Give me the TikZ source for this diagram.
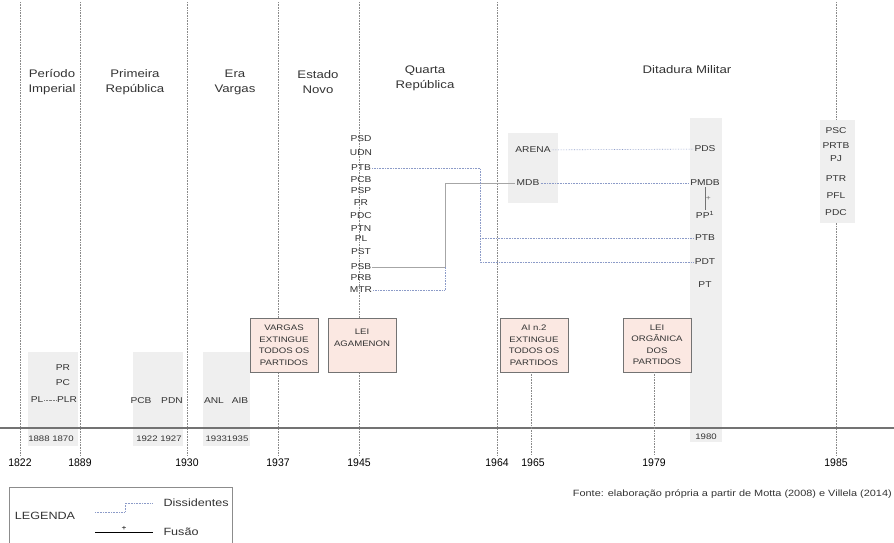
\documentclass[tikz,border=0pt]{standalone}
\usepackage{fontspec}
\setmainfont{Liberation Sans}[FakeStretch=1.2]
\newfontfamily\yearfont{Liberation Sans}[FakeStretch=0.95]
\usepackage{tikz}
\usetikzlibrary{calc}
\definecolor{linegray}{HTML}{8A8A8A}
\definecolor{colbg}{HTML}{EFEFEF}
\definecolor{dissid}{HTML}{8C9BC8}
\definecolor{boxfill}{HTML}{FBE8E2}
\definecolor{txt}{HTML}{333333}
\tikzset{
  yearline/.style={linegray, densely dotted, line width=.6pt},
  party/.style={font=\fontsize{8.5}{9}\selectfont, text=txt, inner sep=1pt},
  period/.style={font=\fontsize{11}{15}\selectfont, align=center, text=txt},
  year/.style={font=\yearfont\fontsize{11}{12}\selectfont, text=black},
  smallyear/.style={font=\fontsize{8}{9}\selectfont, text=txt},
  lawbox/.style={draw=black!55, fill=boxfill, minimum width=68, minimum height=54,
    align=center, font=\fontsize{8}{11.5}\selectfont, text=txt, inner sep=1pt},
  dissline/.style={dissid, densely dotted, line width=.6pt},
  fusline/.style={black!35, line width=.5pt},
  legtext/.style={font=\fontsize{10.5}{12}\selectfont, text=txt},
}
\begin{document}
\begin{tikzpicture}[x=1pt, y=-1pt]
\useasboundingbox (0,0) rectangle (894,542);

\foreach \x in {20,80,187,278,359,497,836} {
  \draw[yearline] (\x,2) -- (\x,455);
}

\fill[colbg] (28,352) rectangle (78,446);
\fill[colbg] (133,352) rectangle (183,446);
\fill[colbg] (203,352) rectangle (250,446);
\fill[colbg] (690,118) rectangle (722,442);
\fill[colbg] (508,133) rectangle (558,203);
\fill[colbg] (820,120) rectangle (855,223);

\draw[black!55, line width=1.2pt] (0,428) -- (894,428);

\node[period] (pimp) at (52,82) {Período\\Imperial};
\node[period] (pprim) at (135,82) {Primeira\\República};
\node[period] (pera) at (235,82) {Era\\Vargas};
\node[period] (pest) at (318,82) {Estado\\Novo};
\node[period] (pqua) at (425,78) {Quarta\\República};
\node[period] (pdit) at (687,70) {Ditadura Militar};

\foreach \x/\yr in {20/1822,80/1889,187/1930,278/1937,359/1945,497/1964,533/1965,654/1979,836/1985} {
  \node[year] (y\yr) at (\x,463) {\yr};
}
\node[smallyear] (s1) at (51,439) {1888 1870};
\node[smallyear] (s2) at (159,439) {1922 1927};
\node[smallyear] (s3) at (227,439) {19331935};
\node[smallyear] (s4) at (706,437) {1980};

\node[party] (iPR) at (63,368) {PR};
\node[party] (iPC) at (63,383) {PC};
\node[party] (iPL) at (37,400) {PL};
\node[party] (iPLR) at (67,400) {PLR};
\draw[black!50, densely dotted] (iPL) -- (iPLR);
\node[party] (rPCB) at (141,401) {PCB};
\node[party] (rPDN) at (172,401) {PDN};
\node[party] (vANL) at (214,401) {ANL};
\node[party] (vAIB) at (240,401) {AIB};

\foreach \p/\yy in {PSD/139,UDN/153,PTB/168,PCB/180,PSP/191,PR/203,PDC/216,PTN/229,PL/239,PST/252,PSB/267,PRB/278,MTR/290} {
  \node[party] (q\p) at (361,\yy) {\p};
}

\node[party] (arena) at (533,150) {ARENA};
\node[party] (mdb) at (528,183) {MDB};

\node[party] (dPDS) at (705,149) {PDS};
\node[party] (dPMDB) at (705,183) {PMDB};
\node[party] (dPP) at (705,215) {PP\textsuperscript{1}};
\node[party] (dPTB) at (705,238) {PTB};
\node[party] (dPDT) at (705,262) {PDT};
\node[party] (dPT) at (705,285) {PT};

\foreach \p/\yy in {PSC/131,PRTB/146,PJ/159,PTR/179,PFL/196,PDC/213} {
  \node[party] (n\p) at (836,\yy) {\p};
}

\coordinate (jm) at (445,183);
\coordinate (jt) at (480,238);
\coordinate (jd) at (480,262);
\draw[fusline] (qPSB) -| (jm) -- (mdb);
\draw[dissline] (qMTR) -| (qPSB -| jm);
\draw[dissline] (qPTB) -| (jd) -- (dPDT);
\draw[dissline] (jt) -- (dPTB);
\draw[dissline] (arena) -- (dPDS);
\draw[dissline] (mdb) -- (dPMDB);
\draw[black!55, line width=.5pt] (dPMDB) -- (dPP) node[midway, right, inner sep=.5pt, font=\scriptsize] {+};

\node[lawbox] (vargas) at (284,345) {VARGAS\\EXTINGUE\\TODOS OS\\PARTIDOS};
\node[lawbox] (agamenon) at (362,345) {LEI\\AGAMENON\\\strut};
\node[lawbox] (ai2) at (534,345) {AI n.2\\EXTINGUE\\TODOS OS\\PARTIDOS};
\node[lawbox] (organica) at (657,345) {LEI\\ORGÂNICA\\DOS\\PARTIDOS};
\coordinate (t1965) at (531,455);
\coordinate (t1979) at (654,455);
\draw[yearline] (ai2.south -| t1965) -- (t1965);
\draw[yearline] (organica.south -| t1979) -- (t1979);

\draw[black!45] (9,545) -- (9,487) -- (232,487) -- (232,545);
\node[legtext] (leg) at (45,516) {LEGENDA};
\coordinate (la) at (95,512);
\coordinate (lb) at (125,512);
\coordinate (lc) at (125,503);
\coordinate (ld) at (153,503);
\draw[dissline] (la) -- (lb) -- (lc) -- (ld);
\node[legtext, anchor=west] (ldis) at (160,503) {Dissidentes};
\coordinate (le) at (95,532);
\coordinate (lf) at (153,532);
\draw[black] (le) -- (lf) node[midway, above, inner sep=1pt, font=\scriptsize] {+};
\node[legtext, anchor=west] (lfus) at (160,532) {Fusão};

\node[font=\fontsize{9.1}{10}\selectfont, text=txt, anchor=east, inner sep=0pt] (fonte) at (892,494)
  {Fonte: elaboração própria a partir de Motta (2008) e Villela (2014)};
\end{tikzpicture}
\end{document}
